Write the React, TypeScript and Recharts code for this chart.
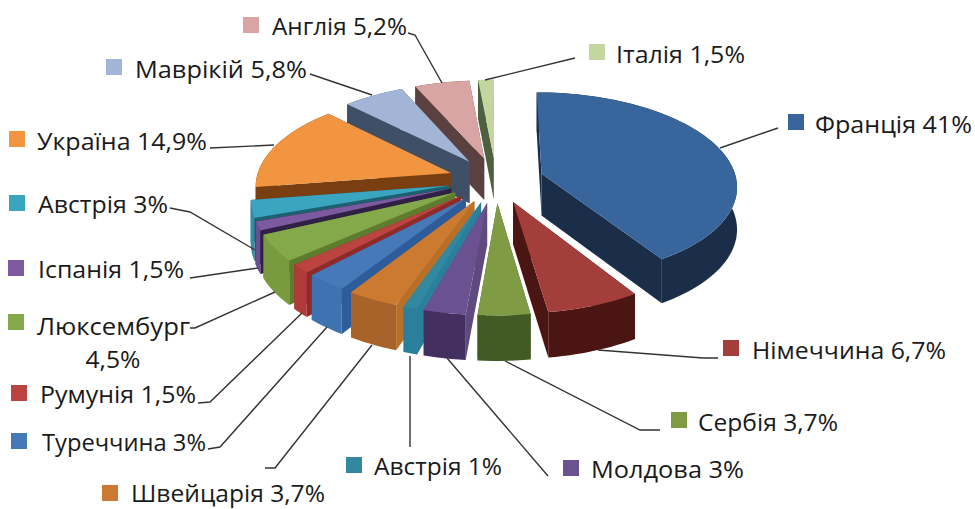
import { PieChart, Pie } from 'recharts';

const categories = ['Франція', 'Німеччина', 'Сербія', 'Молдова', 'Австрія', 'Швейцарія', 'Туреччина', 'Румунія', 'Люксембург', 'Іспанія', 'Австрія', 'Україна', 'Маврікій', 'Англія', 'Італія'];
const shares = [41, 6.7, 3.7, 3, 1, 3.7, 3, 1.5, 4.5, 1.5, 3, 14.9, 5.8, 5.2, 1.5];

const topColors = ['#38659b', '#a33e3a', '#7f9c45', '#6a5190', '#32889f', '#cc7a30', '#4579b8', '#bb4340', '#84a94a', '#7d5aa0', '#3aa5bf', '#f29540', '#a3b5d6', '#d9a5a4', '#c3d6a0'];
const wallColors = ['#1a2e4a', '#4a1512', '#425a24', '#443060', '#2a7f9a', '#a8632a', '#3f72b0', '#b03a3a', '#7a9a40', '#6a4f90', '#2f8ea6', '#7a3f10', '#3f4f66', '#5a4040', '#4f6040'];
const sideColors = ['#1a2e4a', '#4a1512', '#425a24', '#5f4a80', '#2a7f9a', '#b87028', '#2e5c9a', '#8c2b28', '#5f7c2e', '#302045', '#1e5f70', '#7a3f10', '#3f4f66', '#5a4040', '#4f6040'];

// where each caption sits: marker centre, text start, text width, text centre line
const captions = [
  { mx: 796, my: 122, tx: 815, tw: 157, ty: 125 },
  { mx: 731, my: 348, tx: 752, tw: 194, ty: 351 },
  { mx: 679, my: 420, tx: 698, tw: 140, ty: 423 },
  { mx: 571, my: 468, tx: 591, tw: 153, ty: 470 },
  { mx: 354, my: 465, tx: 374, tw: 128, ty: 467 },
  { mx: 110, my: 493, tx: 131, tw: 194, ty: 494 },
  { mx: 19, my: 441, tx: 42, tw: 164, ty: 443 },
  { mx: 19, my: 393, tx: 40, tw: 156, ty: 395 },
  { mx: 16, my: 322, tx: 37, tw: 153, ty: 327 },
  { mx: 16, my: 268, tx: 38, tw: 146, ty: 270 },
  { mx: 17, my: 203, tx: 38, tw: 130, ty: 205 },
  { mx: 17, my: 139, tx: 37, tw: 170, ty: 142 },
  { mx: 114, my: 67, tx: 135, tw: 172, ty: 70 },
  { mx: 251, my: 25, tx: 272, tw: 135, ty: 27 },
  { mx: 597, my: 52, tx: 616, tw: 129, ty: 55 },
];

const leaders = [
  '720,148 778,128',
  '598,350 703,358 718,358',
  '505,361 640,430 660,430',
  '447,358 548,476',
  '410,356 410,447',
  '372,345 275,468 265,468',
  '327,327 220,447 208,449',
  '302,313 210,402 198,403',
  '275,292 195,328 190,328',
  '258,268 190,278',
  '255,250 190,212 170,208',
  '274,145 210,148',
  '372,95 310,74',
  '442,83 415,35 408,33',
  '485,80 575,58',
];

const rows = categories.map((name, i) => ({
  name,
  value: shares[i],
  idx: i,
}));

const CX = 496;
const CY = 180;
const RADIUS = 195;
const TILT = 92.5 / 195;
const PERSPECTIVE = 0.12;
const EXPLODE = 0.245;
const DEPTH = 42;
const rad = (d: number) => (d * Math.PI) / 180;

// ground plane -> screen, near points get bigger
function project(x: number, z: number, cx: number, cy: number, r: number) {
  const s = 1 / (1 - PERSPECTIVE * z);
  return { x: cx + r * x * s, y: cy + r * TILT * z * s, d: DEPTH * Math.sqrt(s) };
}

function sliceGeometry(props: any) {
  const { cx, cy, outerRadius, startAngle, endAngle } = props;
  const a = 90 - startAngle;
  const b = 90 - endAngle;
  const lo = Math.min(a, b);
  const hi = Math.max(a, b);
  const mid = rad((lo + hi) / 2);
  const ox = EXPLODE * Math.sin(mid);
  const oz = -EXPLODE * Math.cos(mid);
  const apex = project(ox, oz, cx, cy, outerRadius);
  const rim = [];
  const steps = Math.max(2, Math.ceil((hi - lo) / 2));
  for (let i = 0; i <= steps; i++) {
    const t = rad(lo + ((hi - lo) * i) / steps);
    rim.push(project(ox + Math.sin(t), oz - Math.cos(t), cx, cy, outerRadius));
  }
  return { apex, rim };
}

const pts = (list: { x: number; y: number }[]) => list.map(p => `${p.x.toFixed(1)},${p.y.toFixed(1)}`).join(' ');
const down = (p: { x: number; y: number; d: number }) => ({ x: p.x, y: p.y + p.d });

function WallShape(props: any) {
  const { apex, rim } = sliceGeometry(props);
  const idx = props.payload?.idx ?? props.idx;
  const first = rim[0];
  const last = rim[rim.length - 1];
  return (
    <g>
      <polygon points={pts([apex, first, down(first), down(apex)])} fill={sideColors[idx]} />
      <polygon points={pts([apex, last, down(last), down(apex)])} fill={sideColors[idx]} />
      <polygon points={pts([...rim, ...rim.map(down).reverse()])} fill={wallColors[idx]} />
    </g>
  );
}

function TopShape(props: any) {
  const { apex, rim } = sliceGeometry(props);
  const idx = props.payload?.idx ?? props.idx;
  return <polygon points={pts([apex, ...rim])} fill={topColors[idx]} />;
}

function Caption(props: any) {
  const idx = props.payload?.idx ?? props.idx;
  const c = captions[idx];
  const pct = String(shares[idx]).replace('.', ',') + '%';
  const twoLines = categories[idx] === 'Люксембург';
  const textStyle = { fontFamily: '"Open Sans", sans-serif', fontSize: 23, fill: '#1a1a1a' };
  return (
    <g>
      <polyline points={leaders[idx]} fill="none" stroke="#333333" strokeWidth={1.4} />
      <rect x={c.mx - 8} y={c.my - 8} width={16} height={16} fill={topColors[idx]} />
      <text x={c.tx} y={c.ty} dy="0.36em" textLength={c.tw} lengthAdjust="spacingAndGlyphs" style={textStyle}>
        {twoLines ? categories[idx] : `${categories[idx]} ${pct}`}
      </text>
      {twoLines && (
        <text x={113} y={360} dy="0.36em" textAnchor="middle" textLength={55} lengthAdjust="spacingAndGlyphs" style={textStyle}>
          {pct}
        </text>
      )}
    </g>
  );
}

export default function App() {
  return (
    <div style={{ position: 'absolute', left: 0, top: 0, width: 975, height: 509, background: '#fff' }}>
      <PieChart width={975} height={509} margin={{ top: 0, right: 0, bottom: 0, left: 0 }}>
        {/* walls first, walked counter-clockwise so the nearer slices land on top */}
        <Pie
          data={[...rows].reverse()}
          dataKey="value"
          cx={CX}
          cy={CY}
          outerRadius={RADIUS}
          startAngle={-270}
          endAngle={90}
          stroke="none"
          shape={WallShape}
          isAnimationActive={false}
        />
        <Pie
          data={rows}
          dataKey="value"
          cx={CX}
          cy={CY}
          outerRadius={RADIUS}
          startAngle={90}
          endAngle={-270}
          stroke="none"
          shape={TopShape}
          label={Caption}
          labelLine={false}
          isAnimationActive={false}
        />
      </PieChart>
    </div>
  );
}
